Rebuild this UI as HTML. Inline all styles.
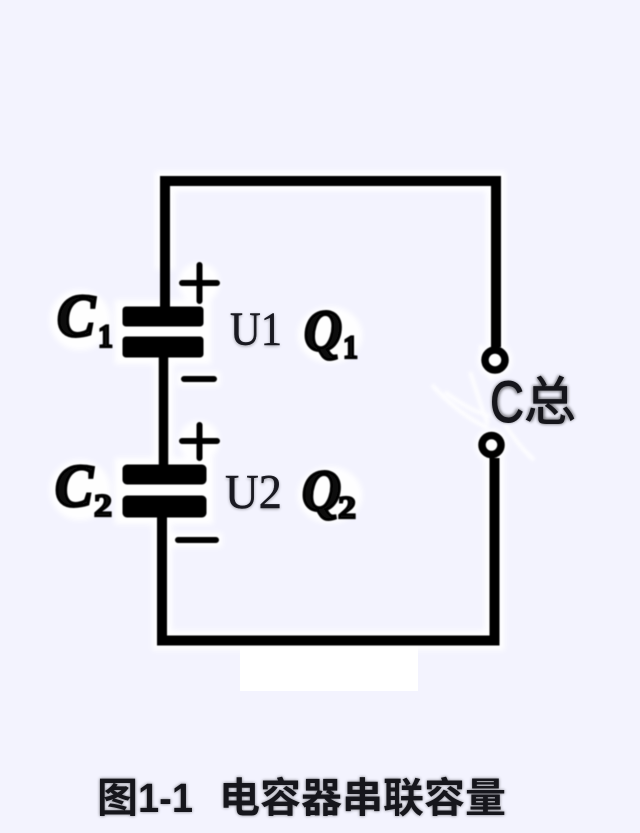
<!DOCTYPE html>
<html lang="zh">
<head>
<meta charset="utf-8">
<style>
html,body{margin:0;padding:0;background:#f3f3fe}
svg{display:block}
text{fill:#111}
.s{font-family:"Liberation Serif",serif}
.bi{font-family:"Liberation Serif",serif;font-weight:bold;font-style:italic;stroke:#000;stroke-width:3px}
.sub{font-family:"Liberation Serif",serif;font-weight:bold;stroke:#000;stroke-width:2.200px}
.cjk{font-family:"Liberation Sans","Noto Sans CJK SC",sans-serif}
</style>
</head>
<body>
<svg width="640" height="833" viewBox="0 0 640 833" xmlns="http://www.w3.org/2000/svg">
<defs>
<filter id="halo" x="-10%" y="-10%" width="120%" height="120%"><feGaussianBlur stdDeviation="3"/></filter>
<filter id="soft" x="-10%" y="-10%" width="120%" height="120%"><feGaussianBlur stdDeviation="0.6"/></filter>
<filter id="shadow" x="-20%" y="-20%" width="140%" height="140%"><feGaussianBlur stdDeviation="1.600"/></filter>
<g id="art">
<path d="M165 270V181H496V347" fill="none" stroke-width="10"/>
<path d="M163.500 355V466" fill="none" stroke-width="9.500"/>
<path d="M162 517V640.500H494.500V458" fill="none" stroke-width="10"/>
<path d="M165 260V310" fill="none" stroke-width="10"/>
<rect x="123" y="307" width="80" height="19" rx="3"/>
<rect x="123" y="337" width="80" height="20" rx="3"/>
<rect x="123" y="465" width="83" height="19" rx="4"/>
<rect x="123" y="496" width="83" height="21" rx="4"/>
<path d="M182 283H217M199.500 265V301M182 441H217M199.500 425V458M184 379H214M178 540H216" fill="none" stroke-width="6" stroke-linecap="round"/>
<circle cx="495" cy="360" r="10" fill="none" stroke-width="7.500"/>
<circle cx="491.500" cy="445" r="9.500" fill="none" stroke-width="7.500"/>
</g>
</defs>
<rect width="640" height="833" fill="#f3f3fe"/>
<g filter="url(#halo)" fill="#fff" stroke="#fff" opacity=".95">
<path d="M165 270V181H496V347M163.500 355V466M162 517V640.500H494.500V458" fill="none" stroke-width="20"/>
<rect x="115" y="300" width="96" height="64"/>
<rect x="115" y="458" width="98" height="66"/>
<circle cx="199" cy="283" r="20"/><circle cx="199" cy="441" r="20"/>
<rect x="178" y="372" width="42" height="14"/><rect x="172" y="533" width="50" height="14"/>
<circle cx="495" cy="360" r="17"/><circle cx="491.500" cy="445" r="16"/>
<ellipse cx="80" cy="320" rx="30" ry="30"/><ellipse cx="80" cy="490" rx="30" ry="30"/>
<ellipse cx="330" cy="335" rx="32" ry="28"/><ellipse cx="330" cy="495" rx="32" ry="28"/>
</g>
<g filter="url(#shadow)" fill="none" stroke="#fff" stroke-width="4" opacity=".9">
<path d="M432 385C450 405 470 420 488 428"/>
<path d="M445 392C462 405 475 412 490 416"/>
<path d="M505 425C515 440 525 452 534 460"/>
<path d="M480 345C485 360 488 372 492 380"/>
<path d="M470 372C478 395 482 410 488 424"/>
</g>
<rect x="240" y="645" width="178" height="46" fill="#fff"/>
<g fill="#000" stroke="#000" filter="url(#soft)"><use href="#art"/></g>

<g class="s" filter="url(#shadow)" opacity=".4" font-size="48">
<text x="230" y="346" textLength="52" lengthAdjust="spacingAndGlyphs">U1</text>
<text x="225" y="509" textLength="57" lengthAdjust="spacingAndGlyphs">U2</text>
</g>
<text class="s" x="230" y="345" font-size="48" textLength="52" lengthAdjust="spacingAndGlyphs" style="fill:#1a1a22;stroke:#1a1a22;stroke-width:.5px">U1</text>
<text class="s" x="225" y="508" font-size="49" textLength="57" lengthAdjust="spacingAndGlyphs" style="fill:#1a1a22;stroke:#1a1a22;stroke-width:.5px">U2</text>

<g filter="url(#soft)">
<text class="bi" x="57" y="336" font-size="60" textLength="38" lengthAdjust="spacingAndGlyphs">C</text>
<text class="sub" x="98" y="347" font-size="33" textLength="15" lengthAdjust="spacingAndGlyphs">1</text>
<text class="bi" x="55" y="506" font-size="60" textLength="38" lengthAdjust="spacingAndGlyphs">C</text>
<text class="sub" x="94" y="516" font-size="32" textLength="18" lengthAdjust="spacingAndGlyphs">2</text>
<text class="bi" x="304" y="350" font-size="58" textLength="38" lengthAdjust="spacingAndGlyphs">Q</text>
<text class="sub" x="343" y="358" font-size="33" textLength="15" lengthAdjust="spacingAndGlyphs">1</text>
<text class="bi" x="302" y="510" font-size="58" textLength="39" lengthAdjust="spacingAndGlyphs">Q</text>
<text class="sub" x="338" y="518" font-size="32" textLength="18" lengthAdjust="spacingAndGlyphs">2</text>
</g>

<g class="cjk" filter="url(#shadow)" opacity=".6" font-weight="bold">
<text x="490" y="422" font-size="58" textLength="34" lengthAdjust="spacingAndGlyphs">C</text>
<text x="524" y="420" font-size="52">总</text>
</g>
<text class="cjk" x="490" y="422" font-size="58" textLength="34" lengthAdjust="spacingAndGlyphs" style="fill:#16161c;stroke:#16161c;stroke-width:1px">C</text>
<text class="cjk" x="524" y="420" font-size="52" style="fill:#16161c;stroke:#16161c;stroke-width:.8px">总</text>

<g class="cjk" font-weight="bold" font-size="41" filter="url(#shadow)" opacity=".5">
<text x="97" y="812">图</text>
<text x="138" y="812" textLength="55" lengthAdjust="spacingAndGlyphs">1-1</text>
<text x="219" y="812" letter-spacing="0">电容器串联容量</text>
</g>
<g class="cjk" font-weight="bold" font-size="41">
<text x="97" y="812" style="fill:#16161c">图</text>
<text x="138" y="812" textLength="55" lengthAdjust="spacingAndGlyphs" style="fill:#16161c">1-1</text>
<text x="219" y="812" letter-spacing="0" style="fill:#16161c">电容器串联容量</text>
</g>
</svg>
</body>
</html>
